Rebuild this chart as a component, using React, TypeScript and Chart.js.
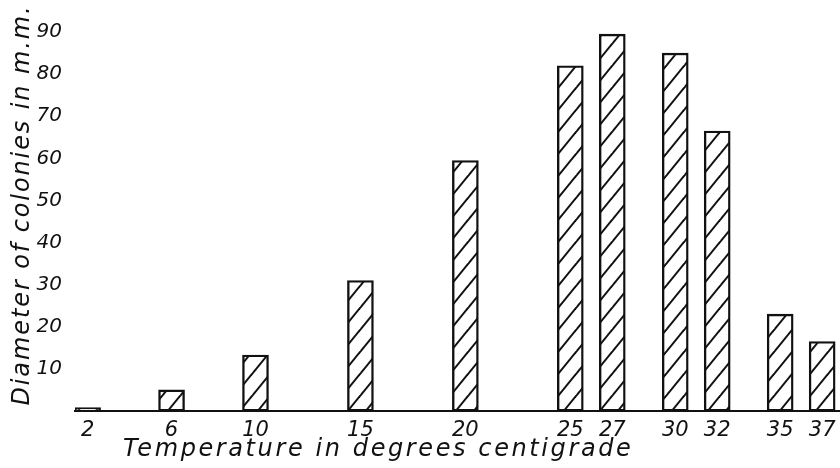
import React, { useEffect, useRef } from "react";
import { Chart, registerables } from "chart.js";

Chart.register(...registerables);

const temperatures = [2, 6, 10, 15, 20, 25, 27, 30, 32, 35, 37];
const diameters = [0.8, 5, 13.3, 31, 59.5, 82, 89.5, 85, 66.5, 23, 16.5];
const yTickValues = [10, 20, 30, 40, 50, 60, 70, 80, 90];
const xTitle = "Temperature in degrees centigrade";
const yTitle = "Diameter of colonies in m.m.";

const INK = "#111111";
const FONT_FAMILY = "'DejaVu Sans', sans-serif";

function makeHatch(): CanvasPattern | string {
  const c = document.createElement("canvas");
  const w = 18;
  const h = 22;
  c.width = w;
  c.height = h;
  const ctx = c.getContext("2d");
  if (!ctx) return "#ffffff";
  ctx.fillStyle = "#ffffff";
  ctx.fillRect(0, 0, w, h);
  ctx.strokeStyle = INK;
  ctx.lineWidth = 2;
  for (let k = 0; k <= 2; k++) {
    ctx.beginPath();
    ctx.moveTo((k + 1) * w, -h);
    ctx.lineTo((k - 2) * w, 2 * h);
    ctx.stroke();
  }
  const p = ctx.createPattern(c, "repeat");
  return p || "#ffffff";
}

const titlePlugin = {
  id: "handTitles",
  afterDraw(chart: any) {
    const { ctx, chartArea } = chart;
    ctx.save();
    ctx.fillStyle = INK;
    ctx.font = `italic 24px ${FONT_FAMILY}`;
    (ctx as any).letterSpacing = "2.6px";
    ctx.textAlign = "left";
    ctx.textBaseline = "alphabetic";
    ctx.fillText(xTitle, chartArea.left + 48, chartArea.bottom + 45);
    ctx.restore();

    ctx.save();
    ctx.fillStyle = INK;
    ctx.font = `italic 24px ${FONT_FAMILY}`;
    (ctx as any).letterSpacing = "1.9px";
    ctx.translate(29, 205);
    ctx.rotate(-Math.PI / 2);
    ctx.textAlign = "center";
    ctx.textBaseline = "alphabetic";
    ctx.fillText(yTitle, 0, 0);
    ctx.restore();
  },
};

export default function App() {
  const canvasRef = useRef<HTMLCanvasElement | null>(null);

  useEffect(() => {
    document.body.style.margin = "0";
    const canvas = canvasRef.current;
    if (!canvas) return;
    const hatch = makeHatch();

    const chart = new Chart(canvas, {
      type: "bar",
      data: {
        datasets: [
          {
            data: temperatures.map((t, i) => ({ x: t, y: diameters[i] })),
            backgroundColor: hatch as any,
            borderColor: INK,
            borderWidth: 2.4,
            borderSkipped: false,
            barThickness: 26,
          } as any,
        ],
      },
      options: {
        animation: false,
        responsive: true,
        maintainAspectRatio: false,
        layout: { padding: { top: 11, right: 0, bottom: 0, left: 0 } },
        plugins: {
          legend: { display: false },
          tooltip: { enabled: false },
        },
        scales: {
          x: {
            type: "linear",
            min: 1.4,
            max: 37.85,
            offset: false,
            grid: { display: false, drawTicks: false },
            border: { display: true, color: INK, width: 2 },
            ticks: {
              color: INK,
              autoSkip: false,
              maxRotation: 0,
              padding: 7,
              font: { family: FONT_FAMILY, size: 21, style: "italic" },
            },
            afterBuildTicks: (s: any) => {
              s.ticks = temperatures.map((v) => ({ value: v }));
            },
            afterFit: (s: any) => {
              s.height = 57;
              s.paddingLeft = 0;
              s.paddingRight = 0;
            },
          },
          y: {
            type: "linear",
            min: 0,
            max: 95,
            grid: { display: false, drawTicks: false },
            border: { display: false },
            ticks: {
              color: INK,
              padding: 13,
              font: { family: FONT_FAMILY, size: 20, style: "italic" },
            },
            afterBuildTicks: (s: any) => {
              s.ticks = yTickValues.map((v) => ({ value: v }));
            },
            afterFit: (s: any) => {
              s.width = 75;
              s.paddingTop = 0;
              s.paddingBottom = 0;
            },
          },
        },
      } as any,
      plugins: [titlePlugin],
    });

    return () => {
      chart.destroy();
    };
  }, []);

  return (
    <div style={{ width: 840, height: 468, position: "relative", background: "#ffffff" }}>
      <canvas ref={canvasRef} />
    </div>
  );
}
